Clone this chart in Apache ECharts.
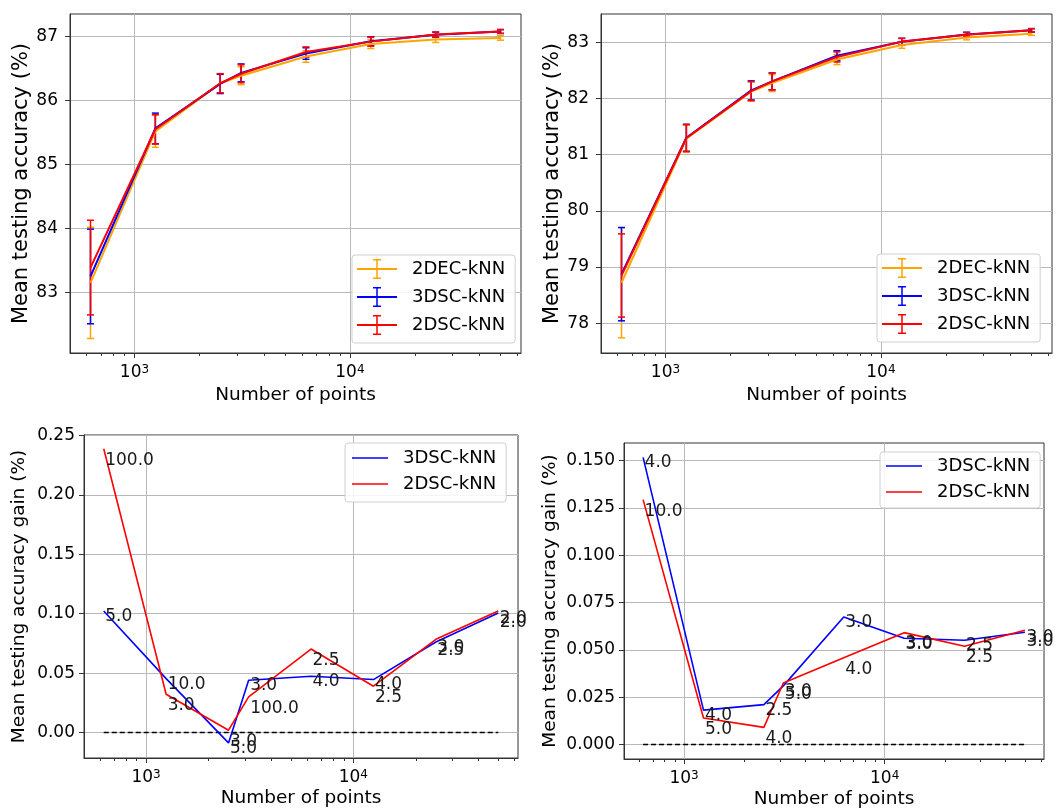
<!DOCTYPE html>
<html><head><meta charset="utf-8">
<script src="https://cdn.jsdelivr.net/npm/echarts@6/dist/echarts.min.js"></script>
<style>html,body{margin:0;padding:0;background:#fff}#c{width:1059px;height:809px}</style>
</head><body><div id="c"></div>
<script>
// ---------------- data ----------------
const nPoints = [625, 1250, 2500, 3125, 6250, 12500, 25000, 50000];
const seriesNames = ['2DEC-kNN', '3DSC-kNN', '2DSC-kNN'];

// top-left: mean testing accuracy (%) with std error bars
const accA_2DEC = [83.15, 85.52, 86.27, 86.39, 86.69, 86.885, 86.955, 86.98];
const errA_2DEC = [0.87, 0.25, 0.15, 0.14, 0.09, 0.07, 0.045, 0.035];
const accA_3DSC = [83.25, 85.565, 86.261, 86.434, 86.737, 86.929, 87.031, 87.081];
const errA_3DSC = [0.74, 0.24, 0.15, 0.14, 0.09, 0.07, 0.04, 0.03];
const accA_2DSC = [83.389, 85.552, 86.272, 86.42, 86.76, 86.923, 87.034, 87.082];
const errA_2DSC = [0.74, 0.23, 0.15, 0.14, 0.08, 0.07, 0.04, 0.03];

// top-right
const accB_2DEC = [78.72, 81.28, 82.12, 82.27, 82.69, 82.95, 83.08, 83.15];
const errB_2DEC = [0.98, 0.24, 0.17, 0.15, 0.09, 0.06, 0.04, 0.03];
const accB_3DSC = [78.872, 81.298, 82.141, 82.301, 82.757, 83.006, 83.135, 83.209];
const errB_3DSC = [0.83, 0.24, 0.17, 0.15, 0.09, 0.06, 0.04, 0.03];
const accB_2DSC = [78.849, 81.294, 82.129, 82.3025, 82.736, 83.009, 83.132, 83.21];
const errB_2DSC = [0.74, 0.24, 0.17, 0.15, 0.09, 0.06, 0.04, 0.03];

// bottom-left: gain over 2DEC-kNN (%) and annotation values
const gainA_3DSC = [0.1023, 0.0454, -0.0087, 0.044, 0.0474, 0.0446, 0.0762, 0.1006];
const gainA_2DSC = [0.2388, 0.0322, 0.002, 0.030, 0.0703, 0.039, 0.0785, 0.1023];
const noteA_3DSC = ['5.0', '10.0', '5.0', '3.0', '4.0', '4.0', '3.0', '2.0'];
const noteA_2DSC = ['100.0', '3.0', '3.0', '100.0', '2.5', '2.5', '2.5', '2.0'];

// bottom-right
const gainB_3DSC = [0.1516, 0.0182, 0.0211, 0.031, 0.0674, 0.0561, 0.0551, 0.0593];
const gainB_2DSC = [0.1293, 0.014, 0.0091, 0.0325, 0.0458, 0.0591, 0.0519, 0.0604];
const noteB_3DSC = ['4.0', '4.0', '2.5', '3.0', '3.0', '3.0', '2.5', '3.0'];
const noteB_2DSC = ['10.0', '5.0', '4.0', '5.0', '4.0', '3.0', '2.5', '3.0'];

const zeroLine = [[625, 0], [50000, 0]];

// axis ticks
const xMajorTicks = [1000, 10000];
const xMinorTicks = [600, 700, 800, 900, 2000, 3000, 4000, 5000, 6000, 7000, 8000, 9000,
                     20000, 30000, 40000, 50000, 60000];
const yTicksA = [83, 84, 85, 86, 87];
const yTicksB = [78, 79, 80, 81, 82, 83];
const yTicksGainA = [0, 0.05, 0.10, 0.15, 0.20, 0.25];
const yTicksGainB = [0, 0.025, 0.05, 0.075, 0.1, 0.125, 0.15];

// ---------------- styling ----------------
const FONT = 'DejaVu Sans';
const COLORS = ['#FFA500', '#0000FF', '#FF0000'];
const X_MIN = 502, X_MAX = 62250;
const AX = '#333';

function grid(l, t, w, h) {
  return { left: l, top: t, width: w, height: h, show: true, borderColor: AX, borderWidth: 1,
           backgroundColor: 'transparent', containLabel: false, outerBoundsMode: 'none' };
}
function xAxes(gi, nameGap) {
  return [{
    type: 'log', logBase: 10, gridIndex: gi, min: X_MIN, max: X_MAX, position: 'bottom',
    axisLine: { show: true, onZero: false, lineStyle: { color: AX, width: 1 } },
    axisTick: { show: true, customValues: xMajorTicks, length: 5, lineStyle: { color: AX, width: 1 } },
    minorTick: { show: false },
    axisLabel: {
      customValues: xMajorTicks, margin: 11, color: '#000',
      formatter: v => '{b|10}{s|' + Math.round(Math.log10(v)) + '}',
      rich: { b: { fontSize: 17, fontFamily: FONT, color: '#000' },
              s: { fontSize: 12, fontFamily: FONT, color: '#000', verticalAlign: 'top' } }
    },
    splitLine: { show: true, lineStyle: { color: '#b8b8b8', width: 1 } },
    name: 'Number of points', nameLocation: 'middle', nameGap: nameGap,
    nameTextStyle: { fontSize: 18.5, color: '#000', fontFamily: FONT }
  }, {
    type: 'log', logBase: 10, gridIndex: gi, min: X_MIN, max: X_MAX, position: 'bottom',
    axisLine: { show: false, onZero: false },
    axisTick: { show: true, customValues: xMinorTicks, length: 3, lineStyle: { color: AX, width: 1 } },
    axisLabel: { show: false }, splitLine: { show: false }, minorTick: { show: false }
  }];
}
function yAxis(gi, min, max, ticks, dec, name, nameSize, nameGap, margin) {
  return {
    type: 'value', gridIndex: gi, min: min, max: max,
    axisLine: { show: true, onZero: false, lineStyle: { color: AX, width: 1 } },
    axisTick: { show: true, customValues: ticks, length: 5, lineStyle: { color: AX, width: 1 } },
    axisLabel: { customValues: ticks, fontSize: 17, color: '#000', fontFamily: FONT, margin: margin,
                 formatter: v => Number(v).toFixed(dec) },
    splitLine: { show: true, lineStyle: { color: '#b8b8b8', width: 1 } },
    name: name, nameLocation: 'middle', nameGap: nameGap,
    nameTextStyle: { fontSize: nameSize, color: '#000', fontFamily: FONT }
  };
}

function errRender(color) {
  return function (params, api) {
    const x = api.value(0), y = api.value(1), e = api.value(2);
    const top = api.coord([x, y + e]), bot = api.coord([x, y - e]);
    const cw = 3.5;
    const st = { stroke: color, lineWidth: 1.5 };
    return { type: 'group', children: [
      { type: 'line', shape: { x1: top[0], y1: top[1], x2: bot[0], y2: bot[1] }, style: st },
      { type: 'line', shape: { x1: top[0] - cw, y1: top[1], x2: top[0] + cw, y2: top[1] }, style: st },
      { type: 'line', shape: { x1: bot[0] - cw, y1: bot[1], x2: bot[0] + cw, y2: bot[1] }, style: st }
    ]};
  };
}
function pairs(ys) { return nPoints.map((n, i) => [n, ys[i]]); }
function triples(ys, es) { return nPoints.map((n, i) => [n, ys[i], es[i]]); }

function accSeries(gi, accs, errs) {
  const out = [];
  accs.forEach((acc, k) => {
    out.push({
      type: 'line', name: seriesNames[k], xAxisIndex: 2 * gi, yAxisIndex: gi,
      data: pairs(acc), showSymbol: false, symbol: 'none', silent: true,
      lineStyle: { color: COLORS[k], width: 2 }, itemStyle: { color: COLORS[k] }
    });
    out.push({
      type: 'custom', name: seriesNames[k] + ' err', xAxisIndex: 2 * gi, yAxisIndex: gi,
      data: triples(acc, errs[k]), encode: { x: 0, y: 1 }, silent: true,
      renderItem: errRender(COLORS[k])
    });
  });
  return out;
}
function gainSeries(gi, gains, notes) {
  const out = [{
    type: 'line', name: 'zero', xAxisIndex: 2 * gi, yAxisIndex: gi, data: zeroLine,
    showSymbol: false, symbol: 'none', silent: true,
    lineStyle: { color: '#000', width: 1.5, type: [5, 3] }
  }];
  gains.forEach((g, k) => {
    const c = COLORS[k + 1];
    out.push({
      type: 'line', name: seriesNames[k + 1], xAxisIndex: 2 * gi, yAxisIndex: gi,
      data: pairs(g), symbol: 'circle', symbolSize: 1, showSymbol: true, silent: true,
      itemStyle: { color: 'rgba(0,0,0,0)', borderWidth: 0 },
      lineStyle: { color: c, width: 1.6 },
      label: {
        show: true, position: 'right', distance: 1, verticalAlign: 'top',
        offset: [0, k === 0 ? -3 : 3], fontSize: 17, fontFamily: FONT, color: '#1a1a1a',
        formatter: p => notes[k][p.dataIndex]
      }
    });
  });
  return out;
}

const topIcon = 'path://M0,9h40v2h-40z M19.25,0.5h1.5v19h-1.5z M16,0h8v1.5h-8z M16,18.5h8v1.5h-8z M49.9,10h0.1v0.1h-0.1z';
const botIcon = 'path://M0,0h36v1.6h-36z M45.9,0h0.1v0.1h-0.1z';
function legend(left, top, names, colorIdx, icon, w, h, gap, padding) {
  return {
    orient: 'vertical', left: left, top: top, itemWidth: w, itemHeight: h, itemGap: gap,
    padding: padding, backgroundColor: 'rgba(255,255,255,0.85)', borderColor: '#cfcfcf',
    borderWidth: 1, borderRadius: 3, selectedMode: false,
    textStyle: { fontSize: 18, fontFamily: FONT, color: '#000', lineHeight: 20 },
    data: names.map((n, i) => ({ name: n, icon: icon,
      itemStyle: { color: COLORS[colorIdx[i]], borderWidth: 0 } }))
  };
}

const option = {
  animation: false,
  backgroundColor: '#fff',
  textStyle: { fontFamily: FONT },
  grid: [grid(70, 14, 451, 339), grid(601, 14, 451, 339), grid(84, 435, 434, 323), grid(624, 443, 420, 316)],
  xAxis: [].concat(xAxes(0, 33), xAxes(1, 33), xAxes(2, 31), xAxes(3, 31)),
  yAxis: [
    yAxis(0, 82.053, 87.355, yTicksA, 0, 'Mean testing accuracy (%)', 21, 36, 12),
    yAxis(1, 77.47, 83.50, yTicksB, 0, 'Mean testing accuracy (%)', 21, 37, 12),
    yAxis(2, -0.0214, 0.2504, yTicksGainA, 2, 'Mean testing accuracy gain (%)', 18.5, 55, 9),
    yAxis(3, -0.0076, 0.1592, yTicksGainB, 3, 'Mean testing accuracy gain (%)', 18.5, 64, 9)
  ],
  legend: [
    legend(352, 255, seriesNames, [0, 1, 2], topIcon, 50, 20, 8, [4, 10, 8, 5]),
    legend(877, 254, seriesNames, [0, 1, 2], topIcon, 50, 20, 8, [4, 10, 8, 5]),
    legend(345, 443, seriesNames.slice(1), [1, 2], botIcon, 46, 1.6, 6, [5, 10, 8, 7]),
    legend(880, 452, seriesNames.slice(1), [1, 2], botIcon, 46, 1.6, 6, [4, 10, 6, 6])
  ],
  series: [].concat(
    accSeries(0, [accA_2DEC, accA_3DSC, accA_2DSC], [errA_2DEC, errA_3DSC, errA_2DSC]),
    accSeries(1, [accB_2DEC, accB_3DSC, accB_2DSC], [errB_2DEC, errB_3DSC, errB_2DSC]),
    gainSeries(2, [gainA_3DSC, gainA_2DSC], [noteA_3DSC, noteA_2DSC]),
    gainSeries(3, [gainB_3DSC, gainB_2DSC], [noteB_3DSC, noteB_2DSC])
  )
};

const chart = echarts.init(document.getElementById('c'), null, { renderer: 'canvas' });
chart.setOption(option);
</script>
</body></html>
